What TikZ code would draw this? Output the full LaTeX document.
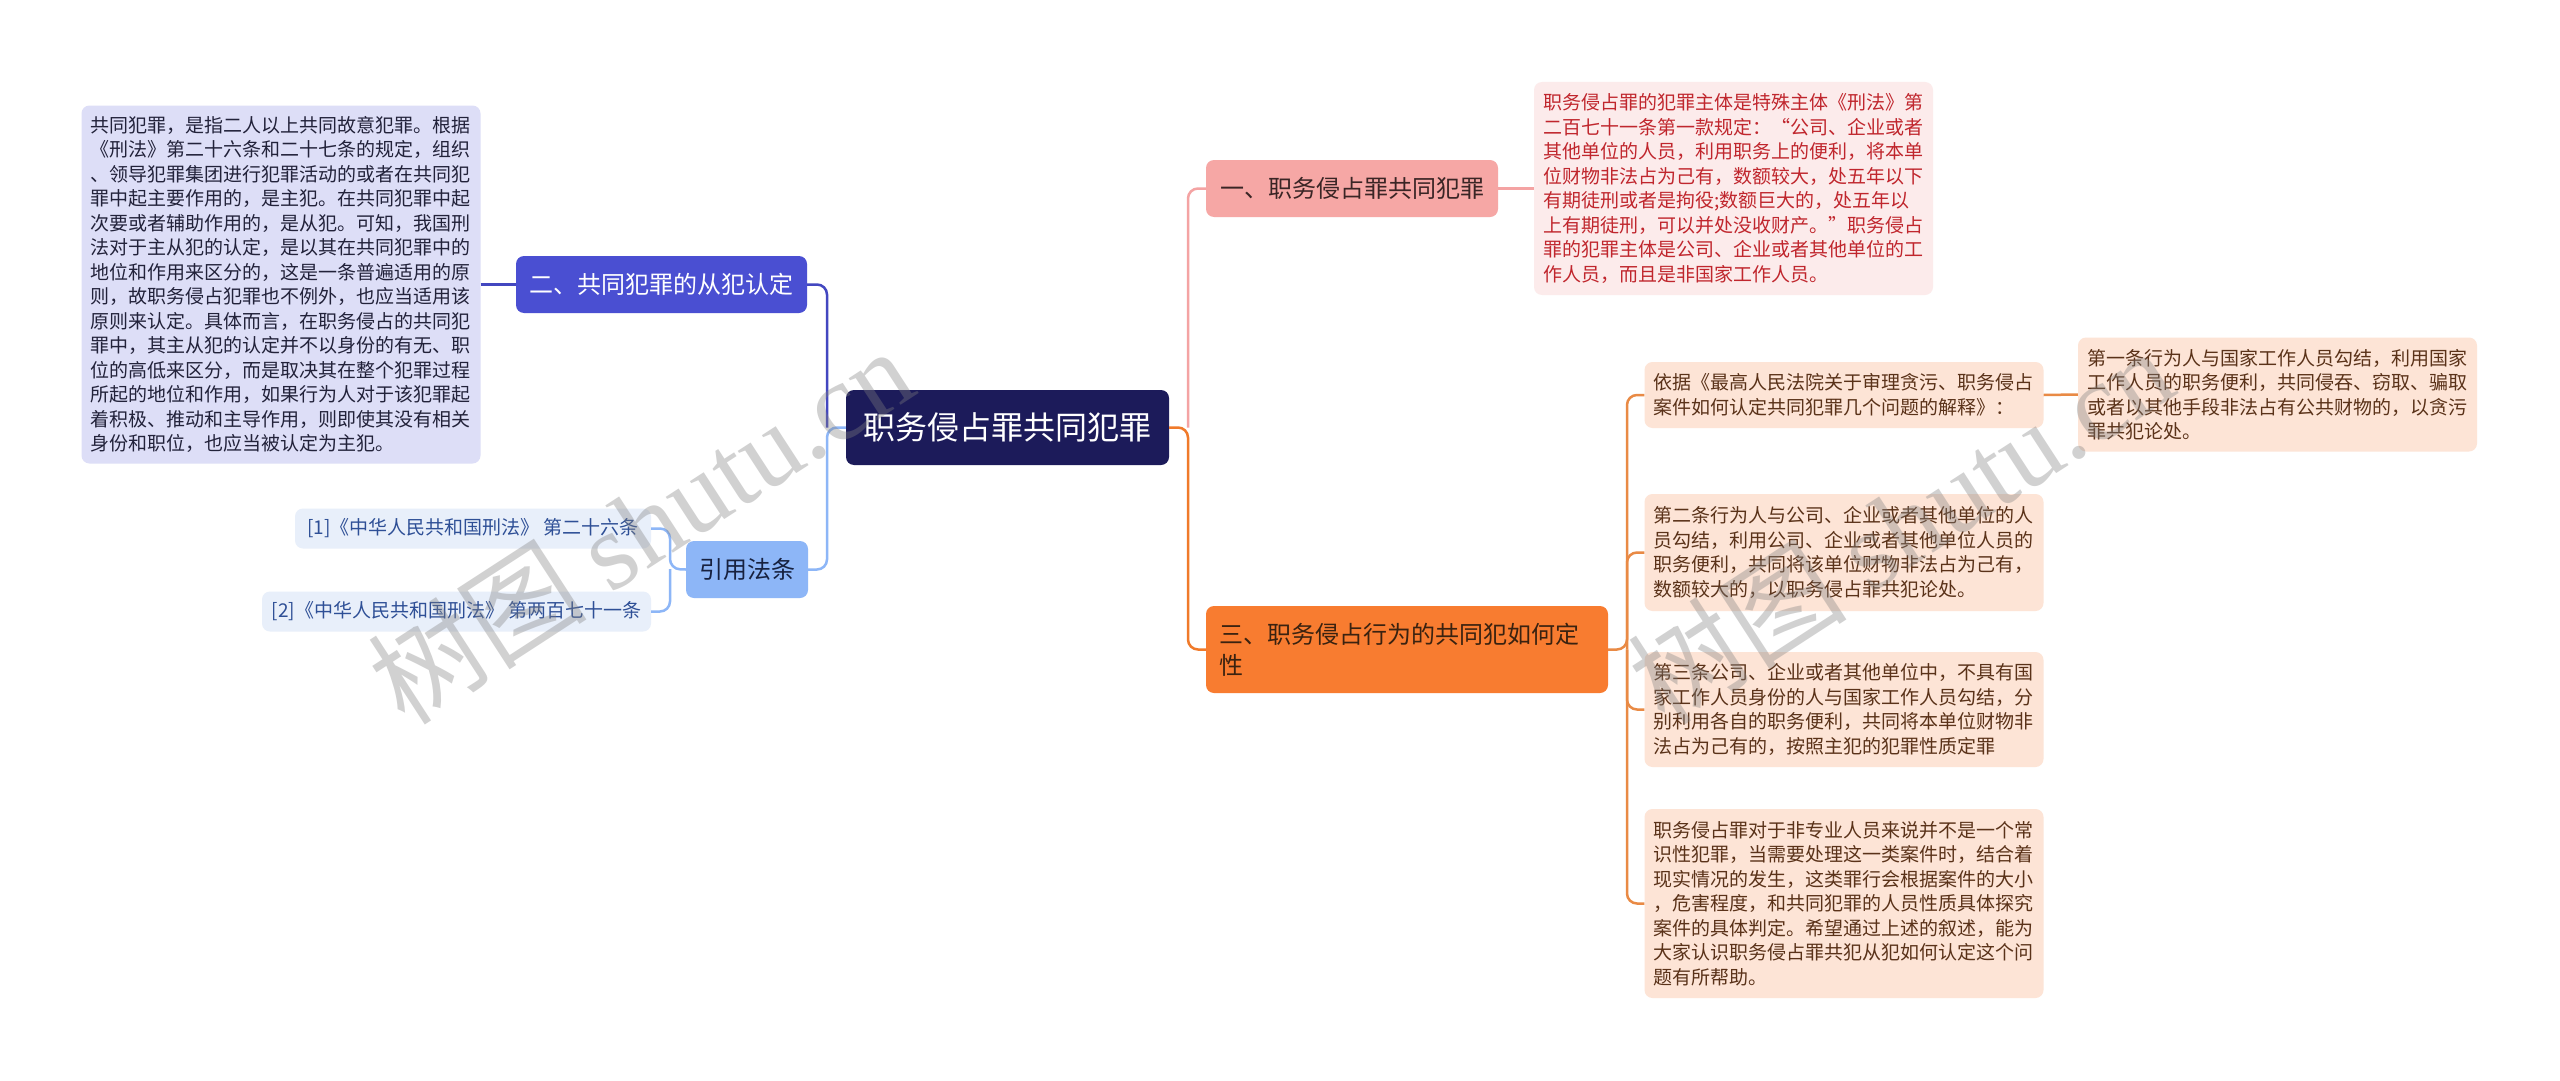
\documentclass[tikz,border=0pt]{standalone}
\usepackage{fontspec}
\setmainfont{Noto Sans CJK SC}
\newfontfamily\wmlatin{Liberation Serif}
\usetikzlibrary{calc}
\definecolor{rootfill}{HTML}{1C1B5A}
\definecolor{bluefill}{HTML}{4A4FD2}
\definecolor{lavfill}{HTML}{DDDEF7}
\definecolor{lavtext}{HTML}{22223A}
\definecolor{citefill}{HTML}{8DB6F7}
\definecolor{citetext}{HTML}{17213F}
\definecolor{reffill}{HTML}{E8EFFA}
\definecolor{reftext}{HTML}{2E4F96}
\definecolor{pinkfill}{HTML}{F6A7A5}
\definecolor{pinktext}{HTML}{3A2525}
\definecolor{rosefill}{HTML}{FCEBEB}
\definecolor{rosetext}{HTML}{C0262D}
\definecolor{orfill}{HTML}{F87C30}
\definecolor{ortext}{HTML}{3A2210}
\definecolor{peachfill}{HTML}{FDE4D6}
\definecolor{peachtext}{HTML}{5A3219}
\definecolor{lineblue}{HTML}{4347C0}
\definecolor{linelight}{HTML}{8DB6F7}
\definecolor{linepink}{HTML}{F4A3A3}
\definecolor{lineor}{HTML}{F07A2A}
\definecolor{lineor2}{HTML}{E98A45}
\tikzset{
  boxbase/.style={rounded corners=8pt, inner ysep=0pt},
  leafbox/.style={boxbase, text width=381pt, inner xsep=9pt, align=left,
    font=\fontsize{19pt}{24.5pt}\selectfont},
  branchbox/.style={boxbase, inner xsep=13pt, align=center,
    font=\fontsize{24pt}{31pt}\selectfont},
  refbox/.style={boxbase, fill=reffill, text=reftext, inner xsep=8pt,
    minimum height=40pt, font=\fontsize{19pt}{22pt}\selectfont},
  conn/.style={line width=2.5pt, rounded corners=10pt},
  wmark/.style={text=gray, opacity=0.36, font=\fontsize{110pt}{110pt}\selectfont, inner sep=0pt}
}
\begin{document}
\begin{tikzpicture}[x=1pt, y=-1pt]
\useasboundingbox (0,0) rectangle (2560,1081);
\fill[white] (0,0) rectangle (2560,1081);

% junction coordinates
\coordinate (lj) at (827,427.5);
\coordinate (rj) at (1188,427.5);
\coordinate (cj) at (670,569);
\coordinate (tj) at (1627,649.5);

% nodes
\node[boxbase, fill=rootfill, text=white, minimum width=323pt, minimum height=75pt,
  font=\fontsize{32pt}{36pt}\selectfont] (root) at (1007.5,427.5) {职务侵占罪共同犯罪};

\node[branchbox, fill=bluefill, text=white, minimum width=291pt, minimum height=57pt]
  (b2) at (661.5,284.5) {二、共同犯罪的从犯认定};
\node[leafbox, fill=lavfill, text=lavtext, minimum height=358pt] (l1) at (281,284.5)
  {共同犯罪，是指二人以上共同故意犯罪。根据\\
   《刑法》第二十六条和二十七条的规定，组织\\
   、领导犯罪集团进行犯罪活动的或者在共同犯\\
   罪中起主要作用的，是主犯。在共同犯罪中起\\
   次要或者辅助作用的，是从犯。可知，我国刑\\
   法对于主从犯的认定，是以其在共同犯罪中的\\
   地位和作用来区分的，这是一条普遍适用的原\\
   则，故职务侵占犯罪也不例外，也应当适用该\\
   原则来认定。具体而言，在职务侵占的共同犯\\
   罪中，其主从犯的认定并不以身份的有无、职\\
   位的高低来区分，而是取决其在整个犯罪过程\\
   所起的地位和作用，如果行为人对于该犯罪起\\
   着积极、推动和主导作用，则即使其没有相关\\
   身份和职位，也应当被认定为主犯。};

\node[branchbox, fill=citefill, text=citetext, minimum width=120pt, minimum height=57pt]
  (cite) at (747,569.5) {引用法条};
\node[refbox, minimum width=356pt] (ref1) at (473,528.5) {[1]《中华人民共和国刑法》 第二十六条};
\node[refbox, minimum width=389pt] (ref2) at (456.5,611.5) {[2]《中华人民共和国刑法》 第两百七十一条};

\node[branchbox, fill=pinkfill, text=pinktext, minimum width=292pt, minimum height=57pt]
  (b1) at (1352,188.5) {一、职务侵占罪共同犯罪};
\node[leafbox, fill=rosefill, text=rosetext, minimum height=213pt] (r1) at (1733.5,188.5)
  {职务侵占罪的犯罪主体是特殊主体《刑法》第\\
   二百七十一条第一款规定：“公司、企业或者\\
   其他单位的人员，利用职务上的便利，将本单\\
   位财物非法占为己有，数额较大，处五年以下\\
   有期徒刑或者是拘役;数额巨大的，处五年以\\
   上有期徒刑，可以并处没收财产。”职务侵占\\
   罪的犯罪主体是公司、企业或者其他单位的工\\
   作人员，而且是非国家工作人员。};

\node[boxbase, fill=orfill, text=ortext, text width=376pt, inner xsep=13pt, align=left,
  minimum height=87pt, font=\fontsize{24pt}{31pt}\selectfont]
  (b3) at (1407,649.5) {三、职务侵占行为的共同犯如何定\\性};

\node[leafbox, fill=peachfill, text=peachtext, minimum height=66pt] (ta) at (1844,395)
  {依据《最高人民法院关于审理贪污、职务侵占\\
   案件如何认定共同犯罪几个问题的解释》：};
\node[leafbox, fill=peachfill, text=peachtext, minimum height=114pt] (tb) at (2277.5,394.5)
  {第一条行为人与国家工作人员勾结，利用国家\\
   工作人员的职务便利，共同侵吞、窃取、骗取\\
   或者以其他手段非法占有公共财物的，以贪污\\
   罪共犯论处。};
\node[leafbox, fill=peachfill, text=peachtext, minimum height=117pt] (tc) at (1844,552.5)
  {第二条行为人与公司、企业或者其他单位的人\\
   员勾结，利用公司、企业或者其他单位人员的\\
   职务便利，共同将该单位财物非法占为己有，\\
   数额较大的，以职务侵占罪共犯论处。};
\node[leafbox, fill=peachfill, text=peachtext, minimum height=115pt] (td) at (1844,709.5)
  {第三条公司、企业或者其他单位中，不具有国\\
   家工作人员身份的人与国家工作人员勾结，分\\
   别利用各自的职务便利，共同将本单位财物非\\
   法占为己有的，按照主犯的犯罪性质定罪};
\node[leafbox, fill=peachfill, text=peachtext, minimum height=189pt] (te) at (1844,903.5)
  {职务侵占罪对于非专业人员来说并不是一个常\\
   识性犯罪，当需要处理这一类案件时，结合着\\
   现实情况的发生，这类罪行会根据案件的大小\\
   ，危害程度，和共同犯罪的人员性质具体探究\\
   案件的具体判定。希望通过上述的叙述，能为\\
   大家认识职务侵占罪共犯从犯如何认定这个问\\
   题有所帮助。};

% connectors
\draw[conn, lineblue] (b2.east) -| (lj);
\draw[conn, linelight] (root.west) -- (lj) |- (cite.east);
\draw[conn, lineblue] (l1.east) -- (b2.west);
\draw[conn, linelight] (cite.west) -- (cj) |- (ref1.east);
\draw[conn, linelight] (cj) |- (ref2.east);

\draw[conn, linepink] (b1.west) -| (rj);
\draw[conn, lineor] (root.east) -- (rj) |- (b3.west);
\draw[conn, linepink] (b1.east) -- (r1.west);

\draw[conn, lineor2] (b3.east) -- (tj) |- (ta.west);
\draw[conn, lineor2] (tj) |- (tc.west);
\draw[conn, lineor2] (tj) |- (td.west);
\draw[conn, lineor2] (tj) |- (te.west);
\draw[conn, lineor2] (ta.east) -- (tb.west);

% watermarks
\node[wmark, rotate=33] (wm1) at (640,525) {树图 {\wmlatin shutu.cn}};
\node[wmark, rotate=33] (wm2) at (1900,525) {树图 {\wmlatin shutu.cn}};
\end{tikzpicture}
\end{document}
